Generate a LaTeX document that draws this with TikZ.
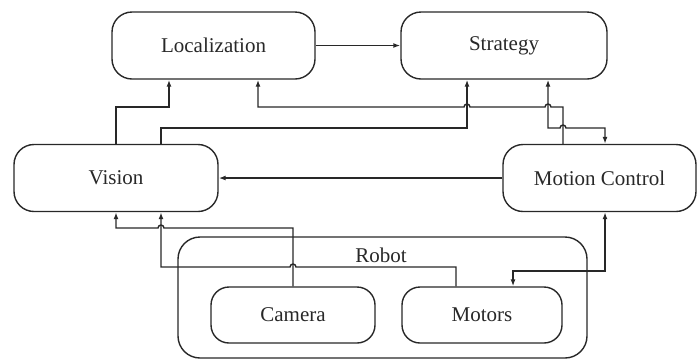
\documentclass[tikz,border=0pt]{standalone}
\usepackage{fontspec}
\setmainfont{Liberation Serif}
\usetikzlibrary{arrows.meta}
\definecolor{ink}{RGB}{40,40,40}
\begin{document}
\begin{tikzpicture}[x=1pt,y=-1pt,
  blk/.style={draw=ink, text=ink, rounded corners=20pt, line width=1.4pt, minimum width=#1, minimum height=67pt, inner sep=0pt, font=\fontsize{21}{25}\selectfont},
  sblk/.style={blk=#1, minimum height=56pt, rounded corners=18pt},
  conn/.style={draw=ink, line width=1.4pt},
  arr/.style={conn, -{Latex[length=7pt,width=5pt]}},
  darr/.style={conn, {Latex[length=7pt,width=5pt]}-{Latex[length=7pt,width=5pt]}},
  lbl/.style={text=ink, font=\fontsize{21}{25}\selectfont, inner sep=0pt}]
\useasboundingbox (0,0) rectangle (698,360);
% container
\node[draw=ink, line width=1.4pt, rounded corners=22pt, minimum width=409pt, minimum height=121pt] (robot) at (382.5,297.5) {};
\node[lbl] (robotlbl) at (381,255) {Robot};
% blocks
\node[blk=203pt] (loc) at (213.5,45.5) {Localization};
\node[blk=206pt] (strat) at (504,45.5) {Strategy};
\node[blk=204pt] (vision) at (116,178) {Vision};
\node[blk=193pt] (mc) at (599.5,178) {Motion Control};
\node[sblk=164pt] (camera) at (293,315) {Camera};
\node[sblk=160pt] (motors) at (482,315) {Motors};
% connectors
\draw[arr] (loc.east) -- (strat.west);
\draw[arr] (mc.west) -- (vision.east);
\draw[arr] (vision.north) -- (116,107) -- (169,107) -- ([xshift=-44.5pt]loc.south);
\draw[arr] ([xshift=45pt]vision.north) -- (161,128) -- (467,128) -- ([xshift=-37pt]strat.south);
\draw[arr] ([xshift=-36.5pt]mc.north) -- (563,107) -- (551,107) arc[start angle=0,end angle=180,radius=3pt] -- (470,107) arc[start angle=0,end angle=180,radius=3pt] -- (258,107) -- ([xshift=44.5pt]loc.south);
\draw[darr] ([xshift=44pt]strat.south) -- (548,128) -- (560,128) arc[start angle=180,end angle=0,radius=3pt] -- (605,128) -- ([xshift=5.5pt]mc.north);
\draw[arr] (camera.north) -- (293,228) -- (164,228) arc[start angle=0,end angle=180,radius=3pt] -- (116,228) -- (vision.south);
\draw[arr] ([xshift=-26pt]motors.north) -- (456,267) -- (296,267) arc[start angle=0,end angle=180,radius=3pt] -- (161,267) -- ([xshift=45pt]vision.south);
\draw[darr] ([xshift=5.5pt]mc.south) -- (605,271) -- (513,271) -- ([xshift=31pt]motors.north);
\end{tikzpicture}
\end{document}
